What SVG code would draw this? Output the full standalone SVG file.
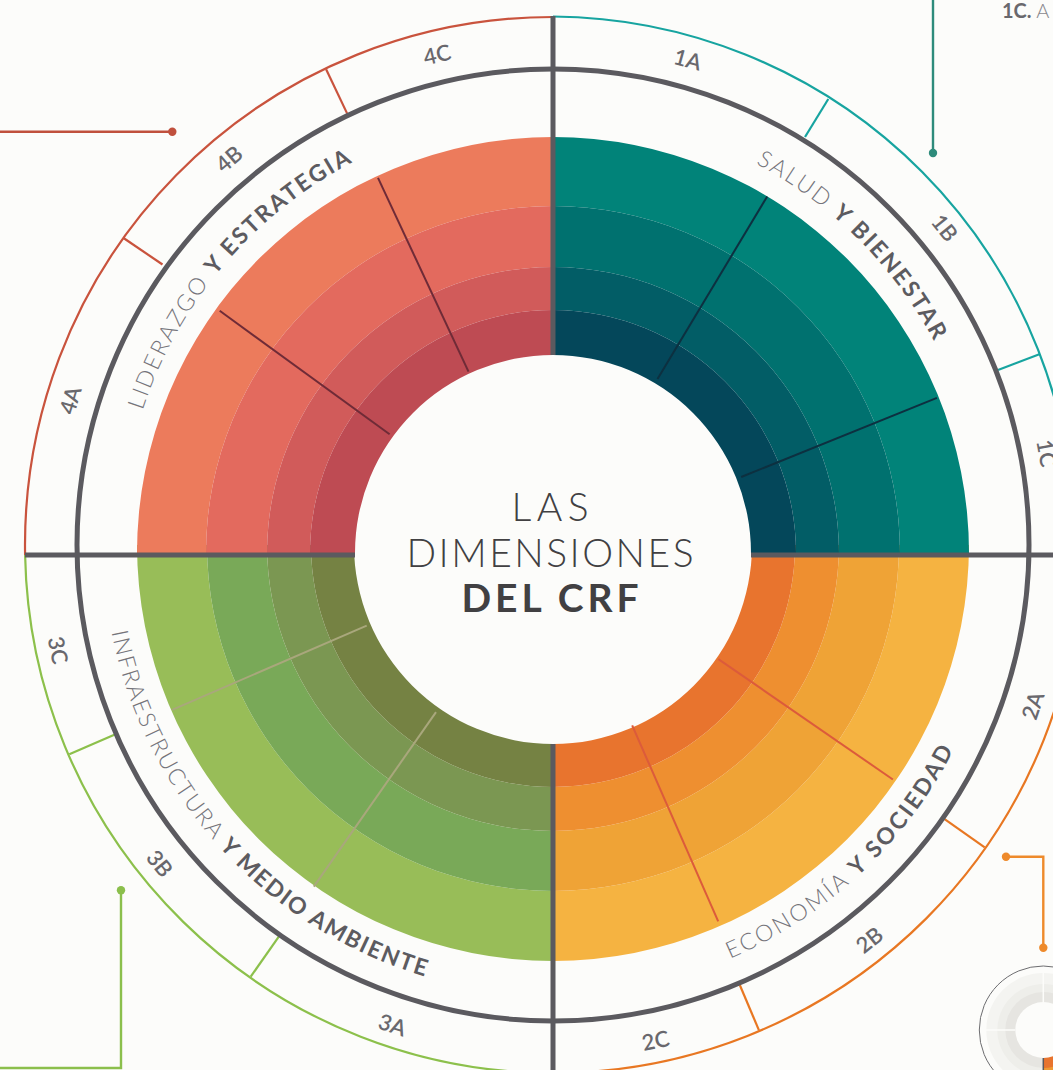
<svg xmlns="http://www.w3.org/2000/svg" width="1053" height="1070" viewBox="0 0 1053 1070">
<style>
.bg{fill:#fcfcfa}
.ring{fill:none;stroke:#5b5a5f;stroke-width:5}
.axis{stroke:#5b5a5f;stroke-width:5;fill:none}
.tick{stroke-width:2.2;fill:none}
.rad{stroke-width:2;fill:none}
.seg{font-family:Lato,"Open Sans","Liberation Sans",sans-serif;font-size:22px;font-weight:600;fill:#69686d;text-anchor:middle}
.arct{font-family:Lato,"Open Sans","Liberation Sans",sans-serif;font-size:23px;text-anchor:middle}
.lt{font-weight:300;fill:#75747a}
.bd{font-weight:700;fill:#5c5b60}
.title{font-family:Lato,"Open Sans","Liberation Sans",sans-serif;font-size:39px;fill:#414042;text-anchor:middle}
</style>
<defs>
<path id="pTR" d="M553,113 A432,432 0 0 1 985,545"/>
<path id="pTL" d="M121,545 A432,432 0 0 1 553,113"/>
<path id="pBL" d="M103,545 A450,450 0 0 0 553,995"/>
<path id="pBR" d="M553,995 A450,450 0 0 0 1003,545"/>
</defs>
<rect class="bg" x="0" y="0" width="1053" height="1070"/>

<g id="outer-arcs">
<path d="M25.1,555 A528,528 0 0 1 553,17" fill="none" stroke="#c9533d" stroke-width="2.2"/>
<path d="M25.1,555 A528,528 0 0 0 553,1073" fill="none" stroke="#8cc04b" stroke-width="2.2"/>
<path d="M553,1073 A528,528 0 0 0 1081,545" fill="none" stroke="#e87722" stroke-width="2.2"/>
<path d="M553,16.5 A525.5,525.5 0 0 1 1074.5,542" fill="none" stroke="#17a4a0" stroke-width="2.2"/>
<line class="tick" stroke="#17a4a0" x1="805" y1="137" x2="828.3" y2="99"/>
<line class="tick" stroke="#17a4a0" x1="998" y1="370" x2="1040" y2="354"/>
<line class="tick" stroke="#c9533d" x1="347.2" y1="113.6" x2="326.1" y2="69.3"/>
<line class="tick" stroke="#c9533d" x1="162.5" y1="264.5" x2="123.5" y2="238"/>
<line class="tick" stroke="#8cc04b" x1="114.3" y1="734.8" x2="69.3" y2="754.3"/>
<line class="tick" stroke="#8cc04b" x1="278.8" y1="936.6" x2="250.7" y2="976.7"/>
<line class="tick" stroke="#e87722" x1="944.6" y1="819.2" x2="984.7" y2="847.3"/>
<line class="tick" stroke="#e87722" x1="739.8" y1="985" x2="758.9" y2="1030.1"/>
<circle class="ring" cx="553" cy="545" r="476"/>
</g>

<g id="quadrant-economia">
<path fill="#f5b341" d="M969,545 A416,416 0 0 1 553,961 L553,891 A346,346 0 0 0 899,545 Z"/>
<path fill="#efa336" d="M899,545 A346,346 0 0 1 553,891 L553,831 A286,286 0 0 0 839,545 Z"/>
<path fill="#ee8f30" d="M839,545 A286,286 0 0 1 553,831 L553,787 A242,242 0 0 0 795,545 Z"/>
<path fill="#e8742e" d="M795,545 A242,242 0 0 1 553,787 L553,744 A199,199 0 0 0 752,545 Z"/>
<line class="rad" stroke="#dc5b3b" x1="718.4" y1="659.1" x2="892.9" y2="779.5"/>
<line class="rad" stroke="#dc5b3b" x1="632.2" y1="725.4" x2="718.2" y2="921.4"/>
</g>

<g id="quadrant-infraestructura">
<path fill="#98bd58" d="M137,545 A416,416 0 0 0 553,961 L553,891 A346,346 0 0 1 207,545 Z"/>
<path fill="#79a958" d="M207,545 A346,346 0 0 0 553,891 L553,831 A286,286 0 0 1 267,545 Z"/>
<path fill="#7b9752" d="M267,545 A286,286 0 0 0 553,831 L553,787 A242,242 0 0 1 311,545 Z"/>
<path fill="#758243" d="M311,545 A242,242 0 0 0 553,787 L553,744 A199,199 0 0 1 354,545 Z"/>
<line class="rad" stroke="#a9a77c" x1="366.7" y1="625.6" x2="172.1" y2="709.8"/>
<line class="rad" stroke="#a9a77c" x1="436" y1="712.1" x2="313.8" y2="886.6"/>
</g>

<g id="quadrant-salud">
<path fill="#018379" d="M553,137 A416,416 0 0 1 969,553 L900,553 A347,347 0 0 0 553,206 Z"/>
<path fill="#00716f" d="M553,206 A347,347 0 0 1 900,553 L839,553 A286,286 0 0 0 553,267 Z"/>
<path fill="#025d66" d="M553,267 A286,286 0 0 1 839,553 L796,553 A243,243 0 0 0 553,310 Z"/>
<path fill="#04475a" d="M553,310 A243,243 0 0 1 796,553 L751,553 A198,198 0 0 0 553,355 Z"/>
<line class="rad" stroke="#0d3040" x1="657.5" y1="379" x2="767.2" y2="196.4"/>
<line class="rad" stroke="#0d3040" x1="741.2" y1="477" x2="936.9" y2="397.9"/>
</g>

<g id="quadrant-liderazgo">
<path fill="#ec7b5c" d="M553,137 A416,416 0 0 0 137,553 L206,553 A347,347 0 0 1 553,206 Z"/>
<path fill="#e36a5e" d="M553,206 A347,347 0 0 0 206,553 L267,553 A286,286 0 0 1 553,267 Z"/>
<path fill="#d15b5a" d="M553,267 A286,286 0 0 0 267,553 L310,553 A243,243 0 0 1 553,310 Z"/>
<path fill="#be4b53" d="M553,310 A243,243 0 0 0 310,553 L355,553 A198,198 0 0 1 553,355 Z"/>
<line class="rad" stroke="#6f2b37" x1="468.5" y1="371.7" x2="378" y2="177.8"/>
<line class="rad" stroke="#6f2b37" x1="389.6" y1="434.3" x2="219.7" y2="310.8"/>
</g>

<g id="axes">
<line class="axis" x1="553" y1="16" x2="553" y2="355"/>
<line class="axis" x1="553" y1="744" x2="553" y2="1070"/>
<line class="axis" x1="25" y1="555" x2="355" y2="555"/>
<line class="axis" x1="751" y1="555" x2="1053" y2="555"/>
</g>

<g id="center">
<text class="title" x="550" y="521" font-weight="300" textLength="77" lengthAdjust="spacing">LAS</text>
<text class="title" x="550" y="567" font-weight="300" textLength="287" lengthAdjust="spacing">DIMENSIONES</text>
<text class="title" x="550" y="612" font-weight="700" textLength="177" lengthAdjust="spacing">DEL CRF</text>
</g>

<g id="dimension-labels">
<text class="arct"><textPath href="#pTR" startOffset="49.9%" textLength="255" lengthAdjust="spacing"><tspan class="lt">SALUD </tspan><tspan class="bd">Y BIENESTAR</tspan></textPath></text>
<text class="arct"><textPath href="#pTL" startOffset="44.7%" textLength="333" lengthAdjust="spacing"><tspan class="lt">LIDERAZGO </tspan><tspan class="bd">Y ESTRATEGIA</tspan></textPath></text>
<text class="arct"><textPath href="#pBL" startOffset="47%" textLength="489" lengthAdjust="spacing"><tspan class="lt">INFRAESTRUCTURA </tspan><tspan class="bd">Y MEDIO AMBIENTE</tspan></textPath></text>
<text class="arct"><textPath href="#pBR" startOffset="47.8%" textLength="312" lengthAdjust="spacing"><tspan class="lt">ECONOMÍA </tspan><tspan class="bd">Y SOCIEDAD</tspan></textPath></text>
</g>

<g id="segment-labels">
<text class="seg" transform="translate(687.7,59.4) rotate(15.5)" y="8">1A</text>
<text class="seg" transform="translate(944.7,227.8) rotate(51)" y="8">1B</text>
<text class="seg" transform="translate(1046.5,453.2) rotate(79.5)" y="8">1C</text>
<text class="seg" transform="translate(1032.8,705.6) rotate(-71.5)" y="8">2A</text>
<text class="seg" transform="translate(869.4,939.9) rotate(-38.7)" y="8">2B</text>
<text class="seg" transform="translate(655.6,1040.5) rotate(-11.7)" y="8">2C</text>
<text class="seg" transform="translate(392.4,1024.8) rotate(18.5)" y="8">3A</text>
<text class="seg" transform="translate(159.8,863.4) rotate(51)" y="8">3B</text>
<text class="seg" transform="translate(58.1,650.2) rotate(78)" y="8">3C</text>
<text class="seg" transform="translate(70.3,400.2) rotate(-73.3)" y="8">4A</text>
<text class="seg" transform="translate(229,158.9) rotate(-40)" y="8">4B</text>
<text class="seg" transform="translate(437.1,54.5) rotate(-13.3)" y="8">4C</text>
</g>

<g id="connectors">
<polyline points="933,0 933,153" fill="none" stroke="#2e8b7b" stroke-width="2.4"/>
<circle cx="933" cy="153" r="4.2" fill="#2e8b7b"/>
<polyline points="0,131.7 172,131.7" fill="none" stroke="#c0503d" stroke-width="2.4"/>
<circle cx="172.3" cy="131.7" r="4.2" fill="#c0503d"/>
<polyline points="121,890 121,1068 0,1068" fill="none" stroke="#8bbf4c" stroke-width="2.4"/>
<circle cx="121" cy="890.3" r="4.2" fill="#8bbf4c"/>
<polyline points="1006,856.7 1043.3,856.7 1043.3,947.7" fill="none" stroke="#ee8a2b" stroke-width="2.4"/>
<circle cx="1006" cy="856.7" r="4.2" fill="#ee8a2b"/>
<circle cx="1043.3" cy="947.7" r="4.2" fill="#ee8a2b"/>
</g>

<g id="note-1c">
<text x="1002" y="18" font-family="Lato,'Open Sans','Liberation Sans',sans-serif" font-size="20" fill="#69686d"><tspan font-weight="700">1C.</tspan><tspan font-weight="300" fill="#8a898e"> A</tspan></text>
</g>

<g id="mini-icon">
<circle cx="1043.3" cy="1030" r="64" fill="none" stroke="#6d6d70" stroke-width="1"/>
<circle cx="1043.3" cy="1030" r="57" fill="#f4f4f1"/>
<circle cx="1043.3" cy="1030" r="46" fill="#eeeeea"/>
<circle cx="1043.3" cy="1030" r="38" fill="#e6e5e1"/>
<path fill="#f3ad3d" d="M1043.3,1030 L1100.3,1030 A57,57 0 0 1 1043.3,1087 Z"/>
<path fill="#ee9a33" d="M1043.3,1030 L1089.3,1030 A46,46 0 0 1 1043.3,1076 Z"/>
<path fill="#e8742e" d="M1043.3,1030 L1081.3,1030 A38,38 0 0 1 1043.3,1068 Z"/>
<circle cx="1043.3" cy="1030" r="28" fill="#fcfcfa"/>
<line x1="1043.3" y1="973" x2="1043.3" y2="1002" stroke="#fcfcfa" stroke-width="1.5"/>
<line x1="986" y1="1030" x2="1015" y2="1030" stroke="#fcfcfa" stroke-width="1.5"/>
<line x1="1043.3" y1="1058" x2="1043.3" y2="1070" stroke="#5b5a5f" stroke-width="1.5"/>
</g>
</svg>
